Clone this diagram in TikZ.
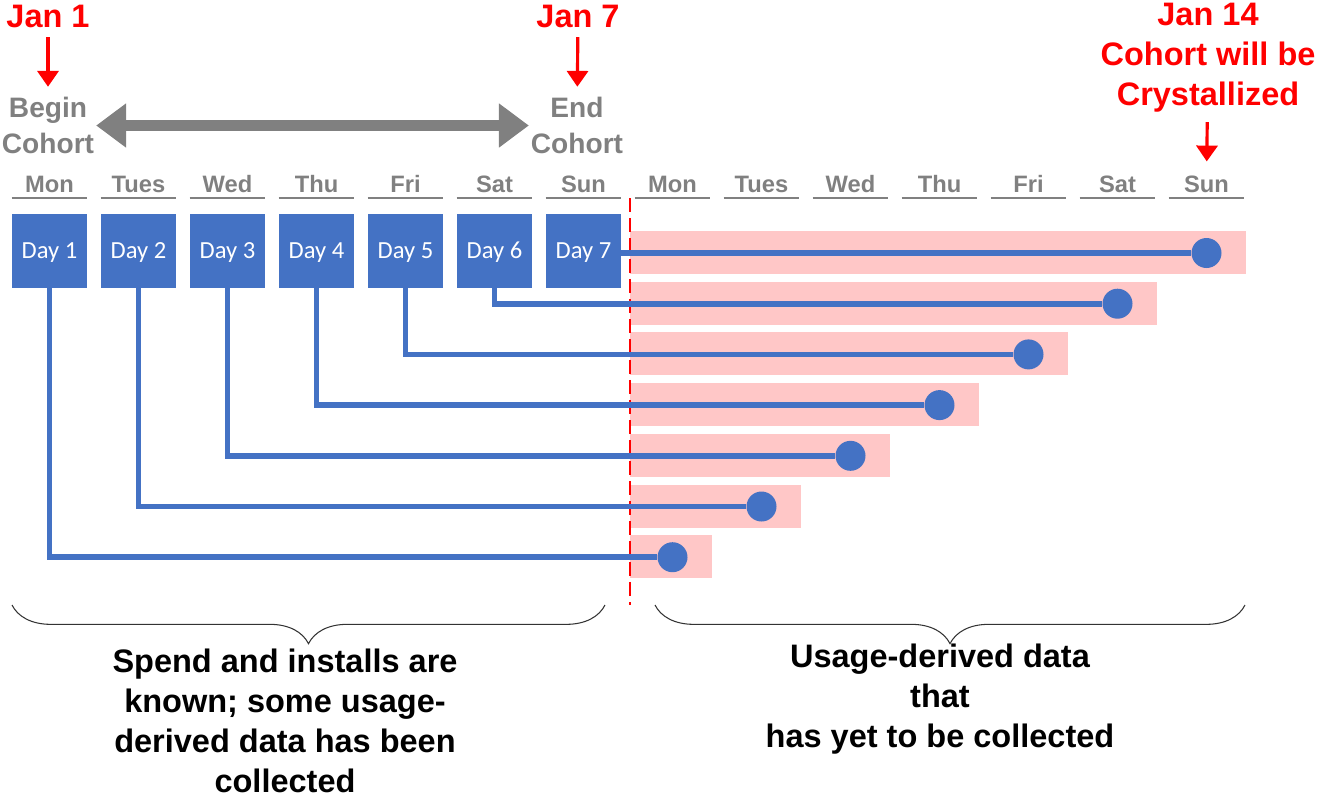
\documentclass[tikz,border=0pt]{standalone}
\usepackage{fontspec}
\setmainfont{Liberation Sans}
\newfontfamily\calibri{Carlito}
\usepackage{tikz}
\usetikzlibrary{arrows.meta,decorations.pathreplacing,calc}
\definecolor{dayblue}{RGB}{68,114,196}
\definecolor{barpink}{RGB}{255,199,199}
\definecolor{labgray}{RGB}{128,128,128}
\newcommand{\bigfont}{\bfseries\fontsize{18.5}{22.7}\selectfont}

\begin{document}
\begin{tikzpicture}
    [x=0.02cm,y=-0.02cm,
     wday/.style={text=labgray,font=\bfseries\fontsize{13.5}{14}\selectfont,
       minimum width=1.5cm,inner xsep=0pt,inner ysep=3pt,text depth=0pt,anchor=south},
     dbox/.style={fill=dayblue,text=white,font=\calibri\fontsize{14}{15}\selectfont,
       minimum width=1.5cm,minimum height=1.48cm,inner sep=0pt,text height=8pt,text depth=0pt},
     enddot/.style={circle,fill=dayblue,minimum size=0.6cm,inner sep=0pt},
     bar/.style={fill=barpink},
     link/.style={dayblue,line width=3.2pt},
     uline/.style={labgray,line width=0.9pt},
     redtxt/.style={text=red,font=\bigfont,align=center},
     graytxt/.style={text=labgray,font=\bfseries\fontsize{16}{20}\selectfont,align=center,inner sep=1pt},
     redarrow/.style={red,line width=1.8pt,shorten <=2pt,shorten >=5pt,-{Triangle[length=9pt,width=12pt]}},
     cohort/.style={labgray,line width=6.5pt,{Triangle[length=17pt,width=24pt]}-{Triangle[length=17pt,width=24pt]}},
     cut/.style={red,line width=1.6pt,dash pattern=on 8pt off 3.5pt},
     brace/.style={decorate,decoration={brace,mirror,amplitude=22pt},line width=0.6pt,black!80},
     note/.style={font=\bigfont,align=center,inner sep=0pt}]
    \useasboundingbox (0,0) rectangle (1318,799);
    % top labels
    \node[redtxt] (jan1) at (48,16) {Jan 1};
    \node[graytxt] (begin) at (48,125.5) {Begin\\Cohort};
    \draw[redarrow] (jan1) -- (begin);
    \node[redtxt] (jan7) at (578,16) {Jan 7};
    \node[graytxt] (endc) at (577,125.5) {End\\Cohort};
    \draw[redarrow] (jan7) -- (endc);
    \draw[cohort] (begin) -- (endc);
    \node[redtxt] (jan14) at (1208,58) {Jan 14\\Cohort will be\\Crystallized};
    % weekdays
    \node[wday] (w1) at (49.5,198) {Mon};
    \node[wday] (w2) at (138.5,198) {Tues};
    \node[wday] (w3) at (227.5,198) {Wed};
    \node[wday] (w4) at (316.5,198) {Thu};
    \node[wday] (w5) at (405.5,198) {Fri};
    \node[wday] (w6) at (494.5,198) {Sat};
    \node[wday] (w7) at (583.5,198) {Sun};
    \node[wday] (w8) at (672.5,198) {Mon};
    \node[wday] (w9) at (761.5,198) {Tues};
    \node[wday] (w10) at (850.5,198) {Wed};
    \node[wday] (w11) at (939.5,198) {Thu};
    \node[wday] (w12) at (1028.5,198) {Fri};
    \node[wday] (w13) at (1117.5,198) {Sat};
    \node[wday] (w14) at (1206.5,198) {Sun};
    \draw[redarrow] (jan14) -- (w14);
    \foreach \i in {1,...,14}
      \draw[uline] (w\i.south west) -- (w\i.south east);
    % bars
    \fill[bar] (630,231) rectangle (1245.5,274);
    \fill[bar] (630,281.7) rectangle (1156.5,324.7);
    \fill[bar] (630,332.4) rectangle (1067.5,375.4);
    \fill[bar] (630,383.1) rectangle (978.5,426.1);
    \fill[bar] (630,433.8) rectangle (889.5,476.8);
    \fill[bar] (630,484.5) rectangle (800.5,527.5);
    \fill[bar] (630,535.2) rectangle (711.5,578.2);
    % cut-off line
    \coordinate (cuttop) at (630,198);
    \coordinate (cutbot) at (630,605);
    \draw[cut] (cuttop) -- (cutbot);
    % days
    \node[dbox] (d1) at (49.5,251) {Day 1};
    \node[dbox] (d2) at (138.5,251) {Day 2};
    \node[dbox] (d3) at (227.5,251) {Day 3};
    \node[dbox] (d4) at (316.5,251) {Day 4};
    \node[dbox] (d5) at (405.5,251) {Day 5};
    \node[dbox] (d6) at (494.5,251) {Day 6};
    \node[dbox] (d7) at (583.5,251) {Day 7};
    % end points
    \node[enddot] (e7) at (1206.5,253) {};
    \node[enddot] (e6) at (1117.5,303.7) {};
    \node[enddot] (e5) at (1028.5,354.4) {};
    \node[enddot] (e4) at (939.5,405.1) {};
    \node[enddot] (e3) at (850.5,455.8) {};
    \node[enddot] (e2) at (761.5,506.5) {};
    \node[enddot] (e1) at (672.5,557.2) {};
    \draw[link] (d7.east |- e7) -- (e7);
    \draw[link] (d6.south) |- (e6);
    \draw[link] (d5.south) |- (e5);
    \draw[link] (d4.south) |- (e4);
    \draw[link] (d3.south) |- (e3);
    \draw[link] (d2.south) |- (e2);
    \draw[link] (d1.south) |- (e1);
    % braces
    \coordinate (lb1) at (12,605);
    \coordinate (lb2) at (605,605);
    \draw[brace] (lb1) -- (lb2);
    \coordinate (rb1) at (655,605);
    \coordinate (rb2) at (1245,605);
    \draw[brace] (rb1) -- (rb2);
    \node[note] (known) at (285,721) {Spend and installs are\\known; some usage-\\derived data has been\\collected};
    \node[note] (usage) at (940,699) {Usage-derived data\\that\\has yet to be collected};
\end{tikzpicture}
\end{document}
